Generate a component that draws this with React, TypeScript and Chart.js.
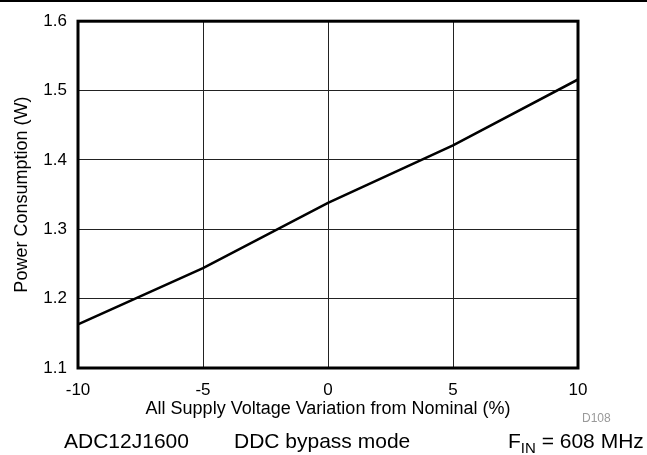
import React, { useEffect, useRef } from "react";
import { Chart, registerables } from "chart.js";

Chart.register(...registerables);

const xValues = [-10, -5, 0, 5, 10];
const powerW = [1.163, 1.244, 1.338, 1.421, 1.516];
const xTickValues = [-10, -5, 0, 5, 10];
const yTickValues = [1.1, 1.2, 1.3, 1.4, 1.5, 1.6];
const xTitle = "All Supply Voltage Variation from Nominal (%)";
const yTitle = "Power Consumption (W)";

const FONT = "Arial, 'Liberation Sans', Helvetica, sans-serif";

const frameBorder = {
  id: "frameBorder",
  afterDatasetsDraw(chart: any) {
    const { ctx, chartArea } = chart;
    ctx.save();
    ctx.strokeStyle = "#000";
    ctx.lineWidth = 3;
    ctx.strokeRect(chartArea.left, chartArea.top, chartArea.right - chartArea.left, chartArea.bottom - chartArea.top);
    ctx.restore();
  },
};

export default function App() {
  const ref = useRef<HTMLCanvasElement>(null);
  useEffect(() => {
    document.body.style.margin = "0";
    const chart = new Chart(ref.current!, {
      type: "line",
      data: {
        datasets: [
          {
            data: xValues.map((x, i) => ({ x, y: powerW[i] })),
            borderColor: "#000",
            borderWidth: 2.5,
            pointRadius: 0,
            tension: 0,
            fill: false,
          },
        ],
      },
      options: {
        responsive: false,
        animation: false,
        events: [],
        layout: { padding: { top: 14, right: 69, bottom: 0, left: 0 } },
        plugins: { legend: { display: false }, tooltip: { enabled: false } },
        scales: {
          x: {
            type: "linear",
            min: -10,
            max: 10,
            afterBuildTicks: (s: any) => {
              s.ticks = xTickValues.map((v) => ({ value: v }));
            },
            afterFit: (s: any) => {
              s.height = 87;
            },
            border: { display: false },
            grid: { color: "#222", lineWidth: 1, drawTicks: false },
            ticks: {
              color: "#000",
              font: { family: FONT, size: 17 },
              padding: 12,
              maxRotation: 0,
              callback: (v: any) => String(v),
            },
            title: {
              display: true,
              text: xTitle,
              color: "#000",
              font: { family: FONT, size: 18 },
              padding: { top: 0, bottom: 35 },
            },
          },
          y: {
            type: "linear",
            min: 1.1,
            max: 1.6,
            afterBuildTicks: (s: any) => {
              s.ticks = yTickValues.map((v) => ({ value: v }));
            },
            afterFit: (s: any) => {
              s.width = 78;
            },
            border: { display: false },
            grid: { color: "#222", lineWidth: 1, drawTicks: false },
            ticks: {
              color: "#000",
              font: { family: FONT, size: 17 },
              padding: 11,
              callback: (v: any) => Number(v).toFixed(1),
            },
            title: {
              display: true,
              text: yTitle,
              color: "#000",
              font: { family: FONT, size: 18 },
              padding: { top: 11, bottom: 0 },
            },
          },
        },
      },
      plugins: [frameBorder],
    });
    return () => chart.destroy();
  }, []);

  const txt: React.CSSProperties = {
    position: "absolute",
    fontFamily: FONT,
    fontSize: 21,
    lineHeight: "21px",
    color: "#000",
    whiteSpace: "nowrap",
  };

  return (
    <div style={{ position: "relative", width: 647, height: 455, background: "#fff", overflow: "hidden" }}>
      <canvas ref={ref} width={647} height={455} style={{ display: "block" }} />
      <div style={{ position: "absolute", left: 0, top: 0, width: 647, height: 2, background: "#000" }} />
      <div style={{ ...txt, left: 582, top: 412, fontSize: 12, lineHeight: "12px", color: "#999" }}>D108</div>
      <div style={{ ...txt, left: 64, top: 430 }}>ADC12J1600</div>
      <div style={{ ...txt, left: 234, top: 430 }}>DDC bypass mode</div>
      <div style={{ ...txt, left: 508, top: 430 }}>
        F<sub style={{ fontSize: 15, lineHeight: 0, verticalAlign: "-5px" }}>IN</sub> = 608 MHz
      </div>
    </div>
  );
}
